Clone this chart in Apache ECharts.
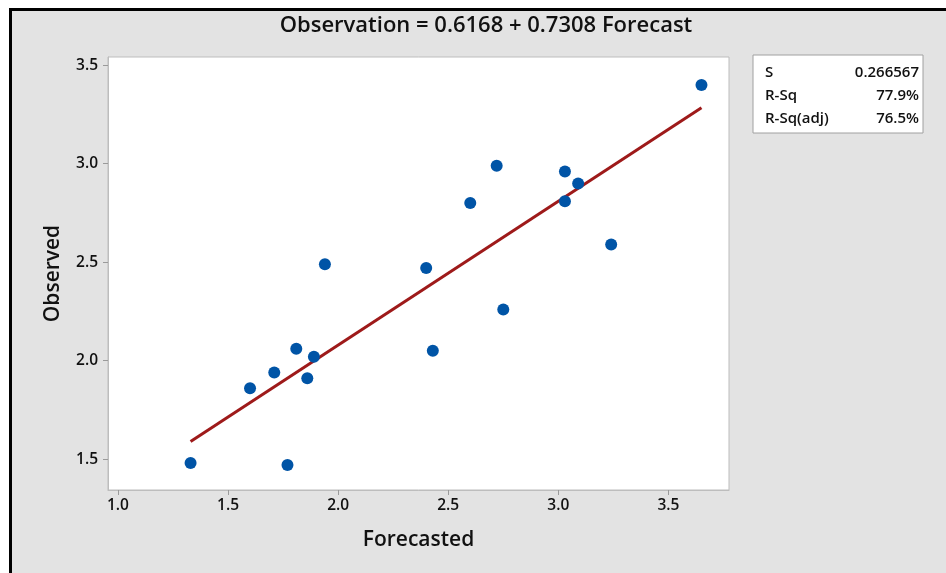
<!DOCTYPE html>
<html>
<head>
<meta charset="utf-8">
<script src="https://cdn.jsdelivr.net/npm/echarts@6/dist/echarts.min.js"></script>
<style>html,body{margin:0;padding:0;background:#fff;}#c{width:946px;height:573px;}</style>
</head>
<body>
<div id="c"></div>
<script>
// Data
var forecast = [1.33, 1.60, 1.71, 1.77, 1.81, 1.86, 1.89, 1.94, 2.40, 2.43, 2.60, 2.72, 2.75, 3.03, 3.03, 3.09, 3.24, 3.65];
var observed = [1.48, 1.86, 1.94, 1.47, 2.06, 1.91, 2.02, 2.49, 2.47, 2.05, 2.80, 2.99, 2.26, 2.96, 2.81, 2.90, 2.59, 3.40];
var intercept = 0.6168;
var slope = 0.7308;
var xTicks = [1.0, 1.5, 2.0, 2.5, 3.0, 3.5];
var yTicks = [1.5, 2.0, 2.5, 3.0, 3.5];
var statLabels = ['S', 'R-Sq', 'R-Sq(adj)'];
var statValues = ['0.266567', '77.9%', '76.5%'];
var titleText = 'Observation = 0.6168 + 0.7308 Forecast';

var points = forecast.map(function (f, i) { return [f, observed[i]]; });
var xMin = Math.min.apply(null, forecast), xMax = Math.max.apply(null, forecast);
var fitLine = [[xMin, intercept + slope * xMin], [xMax, intercept + slope * xMax]];

var FONT = 'Open Sans';
var W = 600;
var chart = echarts.init(document.getElementById('c'), null, {renderer: 'canvas'});

var graphics = [
  {type: 'rect', shape: {x: 0, y: 0, width: 946, height: 8}, style: {fill: '#fff'}, silent: true},
  {type: 'rect', shape: {x: 0, y: 0, width: 9, height: 573}, style: {fill: '#fff'}, silent: true},
  {type: 'rect', shape: {x: 9, y: 8, width: 937, height: 3}, style: {fill: '#000'}, silent: true},
  {type: 'rect', shape: {x: 9, y: 8, width: 3, height: 565}, style: {fill: '#000'}, silent: true},
  {type: 'rect', shape: {x: 753, y: 55, width: 170, height: 78}, style: {fill: '#fff', stroke: '#a0a0a0', lineWidth: 1}, silent: true}
];
var rowY = [73, 96, 119];
statLabels.forEach(function (l, i) {
  graphics.push({type: 'text', x: 765, y: rowY[i], style: {text: l, fontFamily: FONT, fontWeight: W, fontSize: 15, fill: '#111', textVerticalAlign: 'middle', textAlign: 'left'}, silent: true});
  graphics.push({type: 'text', x: 919, y: rowY[i], style: {text: statValues[i], fontFamily: FONT, fontWeight: W, fontSize: 15, fill: '#111', textVerticalAlign: 'middle', textAlign: 'right'}, silent: true});
});

chart.setOption({
  backgroundColor: '#e3e3e3',
  animation: false,
  title: {
    text: titleText, left: 481, top: 10, textAlign: 'center',
    textStyle: {fontFamily: FONT, fontSize: 22, fontWeight: W, color: '#111'}
  },
  grid: {left: 108, top: 57, width: 621, height: 433, show: true, backgroundColor: '#fff', borderColor: '#bdbdbd', borderWidth: 1, containLabel: false},
  xAxis: {
    type: 'value', min: 0.955, max: 3.775,
    name: 'Forecasted', nameLocation: 'middle', nameGap: 40,
    nameTextStyle: {fontFamily: FONT, fontWeight: W, fontSize: 21, color: '#111'},
    axisLine: {show: true, lineStyle: {color: '#bdbdbd'}},
    axisTick: {show: true, customValues: xTicks, length: 5, lineStyle: {color: '#9a9a9a'}},
    axisLabel: {customValues: xTicks, fontFamily: FONT, fontWeight: W, fontSize: 15.5, color: '#111', margin: 8, formatter: function (v) { return v.toFixed(1); }},
    splitLine: {show: false}
  },
  yAxis: {
    type: 'value', min: 1.343, max: 3.542,
    name: 'Observed', nameLocation: 'middle', nameGap: 44, nameRotate: 90,
    nameTextStyle: {fontFamily: FONT, fontWeight: W, fontSize: 21, color: '#111'},
    axisLine: {show: true, lineStyle: {color: '#bdbdbd'}},
    axisTick: {show: true, customValues: yTicks, length: 5, lineStyle: {color: '#9a9a9a'}},
    axisLabel: {customValues: yTicks, fontFamily: FONT, fontWeight: W, fontSize: 15.5, color: '#111', margin: 10, formatter: function (v) { return v.toFixed(1); }},
    splitLine: {show: false}
  },
  graphic: graphics,
  series: [
    {type: 'line', data: fitLine, symbol: 'none', lineStyle: {color: '#9e1a1a', width: 3}, z: 2},
    {type: 'scatter', data: points, symbol: 'circle', symbolSize: 12, itemStyle: {color: '#0054a6', opacity: 1}, z: 3}
  ]
});
</script>
</body>
</html>
